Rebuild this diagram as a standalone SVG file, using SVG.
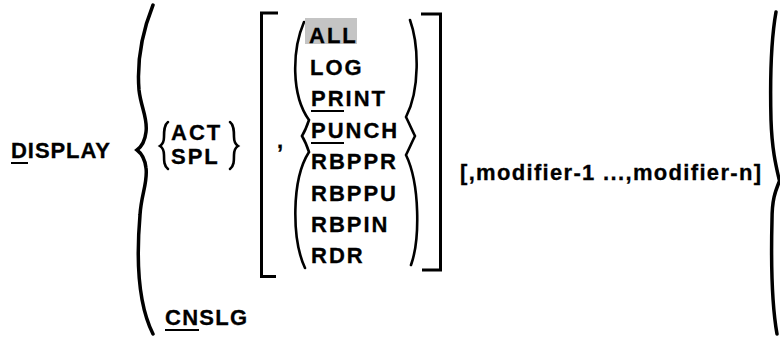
<svg xmlns="http://www.w3.org/2000/svg" width="780" height="337" viewBox="0 0 780 337">
<style>
.t { font-family: "Liberation Sans", Arial, Helvetica, sans-serif; font-weight: bold; font-size: 22px; letter-spacing: 2px; fill: #000; stroke: #000; stroke-width: 0.3px; }
.br { fill: none; stroke: #000; stroke-width: 3.5; stroke-linecap: round; stroke-linejoin: miter; }
.bt { fill: none; stroke: #000; stroke-width: 2.6; stroke-linecap: round; stroke-linejoin: miter; }
.bk { fill: none; stroke: #000; stroke-width: 3; stroke-linecap: butt; stroke-linejoin: miter; }
.ul { stroke: #000; stroke-width: 2; }
</style>
<rect width="780" height="337" fill="#fff"/>
<g id="display">
  <text class="t" x="11" y="158" textLength="101" lengthAdjust="spacing">DISPLAY</text>
  <line class="ul" x1="11" y1="163" x2="28" y2="163"/>
</g>
<g id="delimiters">
  <path class="br" d="M153,5 C141,35 137,65 139,90 C141,108 148,118 146,132 C145,141 141,147 137,150 C141,153 145,159 146,168 C148,182 141,195 140,215 C137,250 136,300 153,334"/>
  <path class="br" d="M776,12 C771,40 770,80 771,120 C772,150 776,166 779.5,181 C775,192 772,200 772,220 C771,260 771,300 777,334"/>
  <path class="bt" d="M168,122 C164,125 164,131 164,137 C164,141 163,144 160,146 C163,148 164,151 164,155 C164,161 164,166 168,169"/>
  <path class="bt" d="M230,122 C234,125 234,131 234,137 C234,141 235,144 238,146 C235,148 234,151 234,155 C234,161 234,166 230,169"/>
  <path class="bk" d="M278,13 L261.5,13 L261.5,276.5 L276,276.5"/>
  <path class="bk" d="M421,14 L440.5,14 L440.5,270 L422,270"/>
  <path class="bt" d="M304,22 C292,50 291,95 309,120 C307,126 305,131 302,136 C305,141 307,146 309,152 C291,180 292,240 305,268"/>
  <path class="bt" d="M410,20 C419,45 420,90 406,117 C409,123 412,130 415,136 C412,142 409,149 406,155 C420,184 420,240 411,265"/>
</g>
<g id="act-spl">
  <text class="t" x="171" y="140">ACT</text>
  <text class="t" x="171" y="164">SPL</text>
</g>
<g id="cnslg">
  <text class="t" x="165" y="325" textLength="84" lengthAdjust="spacing">CNSLG</text>
  <line class="ul" x1="165" y1="330" x2="199" y2="330"/>
</g>
<g id="options">
  <text class="t" x="277" y="148">,</text>
  <rect x="305" y="18" width="52" height="26" fill="#c4c4c4"/>
  <text class="t" x="309" y="43">ALL</text>
  <text class="t" x="310" y="75">LOG</text>
  <text class="t" x="311" y="106">PRINT</text>
  <line class="ul" x1="311" y1="111" x2="344" y2="111"/>
  <text class="t" x="311" y="138">PUNCH</text>
  <line class="ul" x1="311" y1="143" x2="344" y2="143"/>
  <text class="t" x="311" y="169">RBPPR</text>
  <text class="t" x="311" y="201">RBPPU</text>
  <text class="t" x="311" y="232">RBPIN</text>
  <text class="t" x="311" y="263">RDR</text>
</g>
<g id="modifiers">
  <text class="t" x="460" y="180" textLength="303" lengthAdjust="spacing">[,modifier-1 ...,modifier-n]</text>
</g>
</svg>
